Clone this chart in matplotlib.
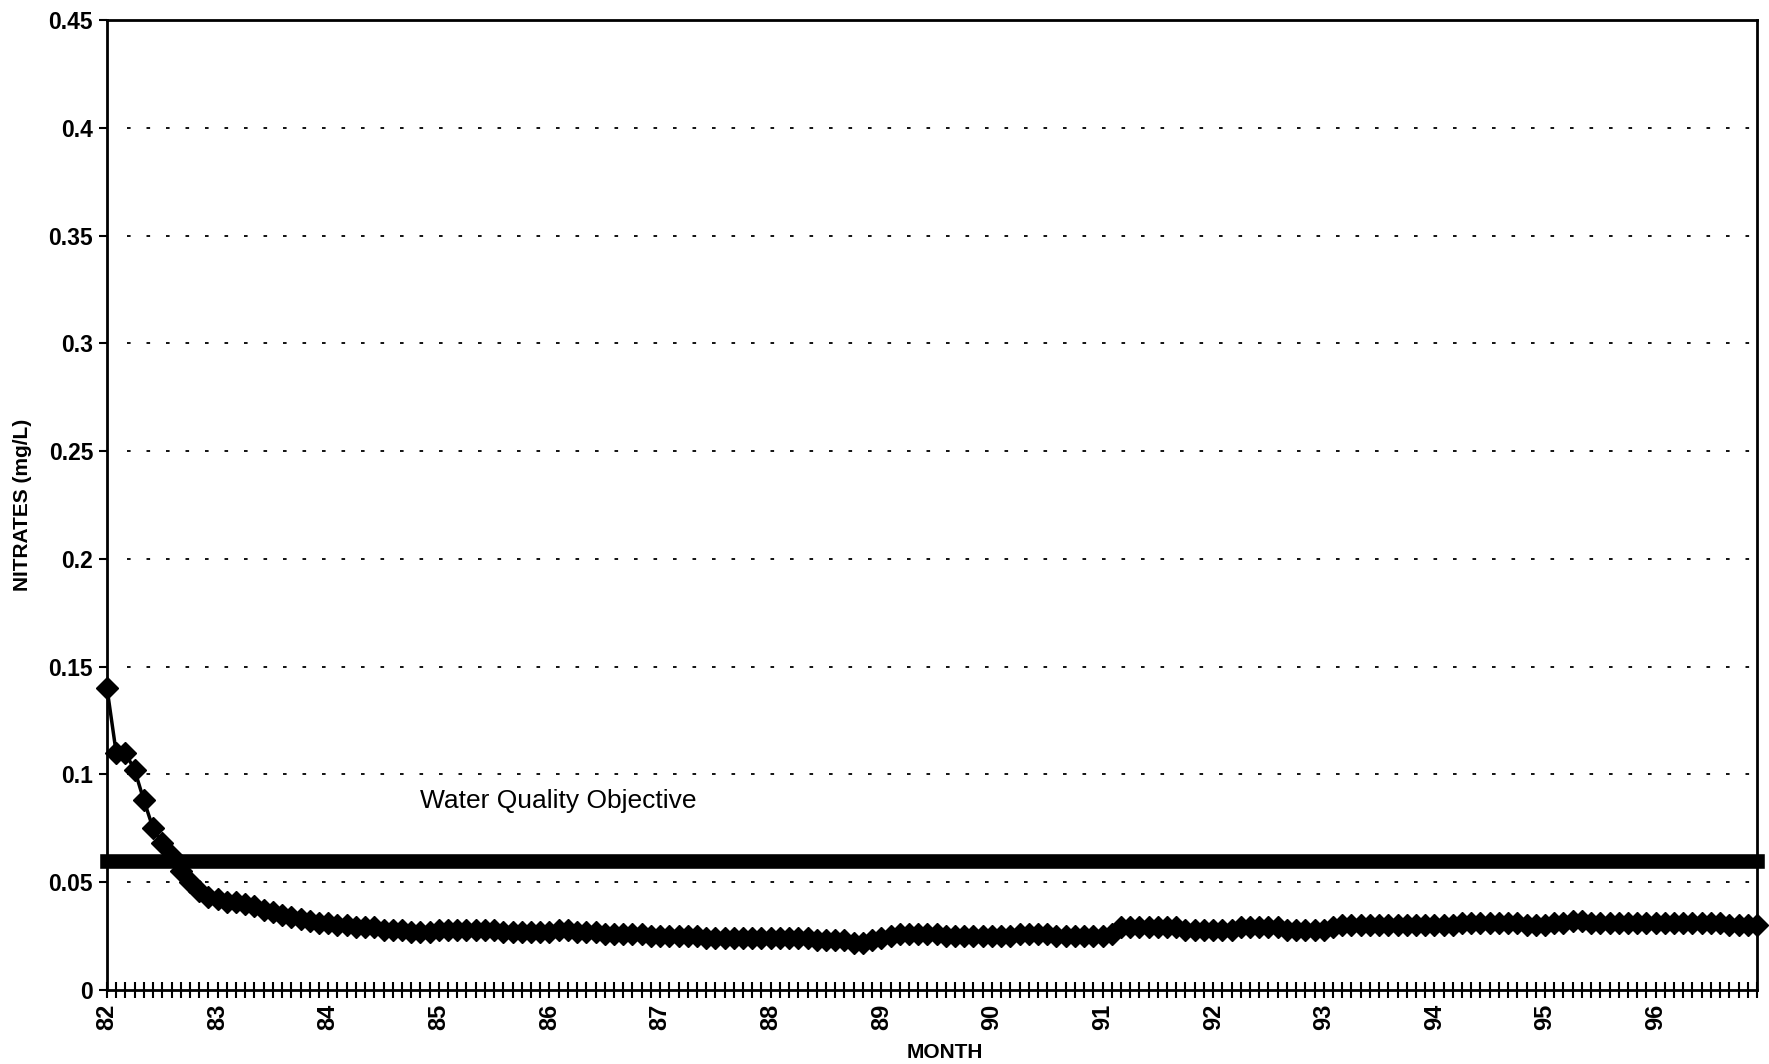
import matplotlib
matplotlib.use("Agg")
import matplotlib.pyplot as plt
from matplotlib.ticker import FixedLocator

# ---- data ----
years = ["82", "83", "84", "85", "86", "87", "88", "89", "90", "91", "92", "93", "94", "95", "96"]
nitrates = [
    0.140, 0.110, 0.110, 0.102, 0.088, 0.075, 0.068, 0.062, 0.055, 0.050, 0.046, 0.043,  # 82
    0.042, 0.041, 0.041, 0.040, 0.039, 0.037, 0.036, 0.035, 0.034, 0.033, 0.032, 0.031,  # 83
    0.031, 0.030, 0.030, 0.029, 0.029, 0.029, 0.028, 0.028, 0.028, 0.027, 0.027, 0.027,  # 84
    0.028, 0.028, 0.028, 0.028, 0.028, 0.028, 0.028, 0.027, 0.027, 0.027, 0.027, 0.027,  # 85
    0.027, 0.028, 0.028, 0.027, 0.027, 0.027, 0.026, 0.026, 0.026, 0.026, 0.026, 0.025,  # 86
    0.025, 0.025, 0.025, 0.025, 0.025, 0.024, 0.024, 0.024, 0.024, 0.024, 0.024, 0.024,  # 87
    0.024, 0.024, 0.024, 0.024, 0.024, 0.023, 0.023, 0.023, 0.023, 0.022, 0.022, 0.023,  # 88
    0.024, 0.025, 0.026, 0.026, 0.026, 0.026, 0.026, 0.025, 0.025, 0.025, 0.025, 0.025,  # 89
    0.025, 0.025, 0.025, 0.026, 0.026, 0.026, 0.026, 0.025, 0.025, 0.025, 0.025, 0.025,  # 90
    0.025, 0.026, 0.029, 0.029, 0.029, 0.029, 0.029, 0.029, 0.029, 0.028, 0.028, 0.028,  # 91
    0.028, 0.028, 0.028, 0.029, 0.029, 0.029, 0.029, 0.029, 0.028, 0.028, 0.028, 0.028,  # 92
    0.028, 0.029, 0.030, 0.030, 0.030, 0.030, 0.030, 0.030, 0.030, 0.030, 0.030, 0.030,  # 93
    0.030, 0.030, 0.030, 0.031, 0.031, 0.031, 0.031, 0.031, 0.031, 0.031, 0.030, 0.030,  # 94
    0.030, 0.031, 0.031, 0.032, 0.032, 0.031, 0.031, 0.031, 0.031, 0.031, 0.031, 0.031,  # 95
    0.031, 0.031, 0.031, 0.031, 0.031, 0.031, 0.031, 0.031, 0.030, 0.030, 0.030, 0.030,  # 96
]
wqo_value = 0.06
wqo_label = "Water Quality Objective"
y_ticks = [0, 0.05, 0.1, 0.15, 0.2, 0.25, 0.3, 0.35, 0.4, 0.45]
y_ticklabels = ["0", "0.05", "0.1", "0.15", "0.2", "0.25", "0.3", "0.35", "0.4", "0.45"]

months = list(range(len(nitrates)))
wqo_series = [wqo_value] * len(nitrates)

plt.rcParams['font.family'] = ['Liberation Sans', 'DejaVu Sans']

W, H = 1769, 1064
fig = plt.figure(figsize=(W / 100, H / 100), dpi=100)
ax = fig.add_axes([107 / W, (H - 990) / H, 1650 / W, 970 / H])

# gridlines
for yv in y_ticks[1:-1]:
    ax.axhline(yv, xmin=0.012, color="black", linewidth=1.3, linestyle=(0, (2, 8.8)), zorder=1)

# WQO line
ax.plot(months, wqo_series, color="black", linewidth=10.5, solid_capstyle="projecting",
        clip_on=False, zorder=3)

# nitrate series
ax.plot(months, nitrates, color="black", linewidth=2.5, marker="D", markersize=11.5,
        markeredgecolor="black", markerfacecolor="black", clip_on=False, zorder=4)

ax.text(34, 0.0877, wqo_label, fontsize=19, ha="left", va="center")

ax.set_xlim(0, len(nitrates) - 1)
ax.set_ylim(0, 0.45)

ax.set_yticks(y_ticks)
ax.set_yticklabels(y_ticklabels, fontsize=16.5, fontweight="bold")
ax.tick_params(axis="y", direction="out", length=6, width=1.5, pad=4)

year_pos = [12 * i for i in range(len(years))]
ax.set_xticks(year_pos)
ax.set_xticklabels(years, rotation=90, fontsize=17, fontweight="bold")
ax.xaxis.set_minor_locator(FixedLocator(months))
ax.tick_params(axis="x", which="both", direction="inout", length=12, width=1.5, pad=4)

for s in ax.spines.values():
    s.set_linewidth(2)
    s.set_color("black")

ax.set_xlabel("MONTH", fontsize=15, fontweight="bold")
ax.set_ylabel("NITRATES (mg/L)", fontsize=15, fontweight="bold")
ax.xaxis.label.set_va("center")
ax.yaxis.label.set_va("center")
ax.xaxis.set_label_coords(0.508, -(1052 - 990) / 970)
ax.yaxis.set_label_coords((23 - 107) / 1650, 0.5)

fig.savefig("out.png", dpi=100)
